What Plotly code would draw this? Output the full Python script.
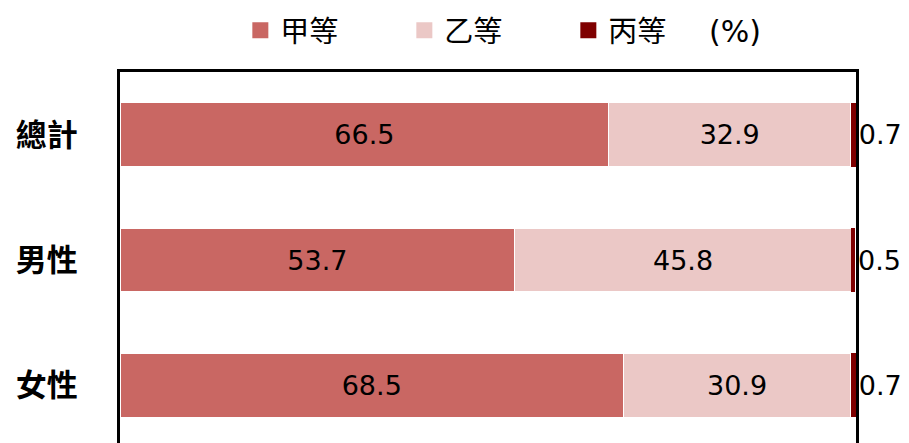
import plotly.graph_objects as go

categories = ["總計", "男性", "女性"]
grade_a = [66.5, 53.7, 68.5]
grade_b = [32.9, 45.8, 30.9]
grade_c = [0.7, 0.5, 0.7]
series_names = ["甲等", "乙等", "丙等"]
colors = ["#C96763", "#EBC8C6", "#7F0000"]
unit_label = "(%)"

L, R, T = 119.5, 52.5, 72
W, H = 909, 443
plot_w = W - L - R

fig = go.Figure()
values = [grade_a, grade_b, grade_c]
for i, (name, vals, col) in enumerate(zip(series_names, values, colors)):
    outside = i == 2
    fig.add_trace(go.Bar(
        y=categories, x=vals, orientation="h", name=name,
        marker=dict(color=col, line=dict(color="white", width=1 if not outside else 0)),
        text=[f"{v:.1f}" for v in vals],
        textposition="outside" if outside else "inside",
        insidetextanchor="middle",
        textfont=dict(family="DejaVu Sans", size=27, color="black"),
        cliponaxis=False,
        showlegend=False,
        hoverinfo="skip",
    ))
    fig.add_trace(go.Scatter(
        x=[None], y=[None], mode="markers", name=name,
        marker=dict(symbol="square", size=17, color=col),
        showlegend=True,
    ))

fig.update_layout(
    width=W, height=H,
    margin=dict(l=L, r=R, t=T, b=0),
    barmode="stack",
    bargap=0.49,
    plot_bgcolor="white",
    paper_bgcolor="white",
    legend=dict(
        orientation="h", xref="container", yref="container",
        x=0.2644, y=1 - 5 / H, xanchor="left", yanchor="top",
        traceorder="normal",
        font=dict(family="Noto Sans CJK TC", size=29, color="black"),
        entrywidth=119, entrywidthmode="pixels",
        itemwidth=30,
    ),
    annotations=[dict(
        text=unit_label, xref="paper", yref="paper",
        x=(707 - L) / plot_w, y=1.0, yshift=T - 31,
        xanchor="left", yanchor="middle", showarrow=False,
        font=dict(family="DejaVu Sans", size=30, color="black"),
    )],
)
fig.update_xaxes(
    range=[0, 100.13], side="top", showline=True, linecolor="black", linewidth=3,
    showticklabels=False, ticks="", showgrid=False, zeroline=False,
)
fig.update_yaxes(
    range=[2.46, -0.5], showline=True, mirror=True, linecolor="black", linewidth=3,
    ticks="", showgrid=False, zeroline=False, ticklabelstandoff=33,
    tickfont=dict(family="Noto Sans CJK TC", size=31, color="black", weight="bold"),
)
fig.write_html("out.html", config={"displayModeBar": False},
               post_script="document.body.style.margin='0';")
